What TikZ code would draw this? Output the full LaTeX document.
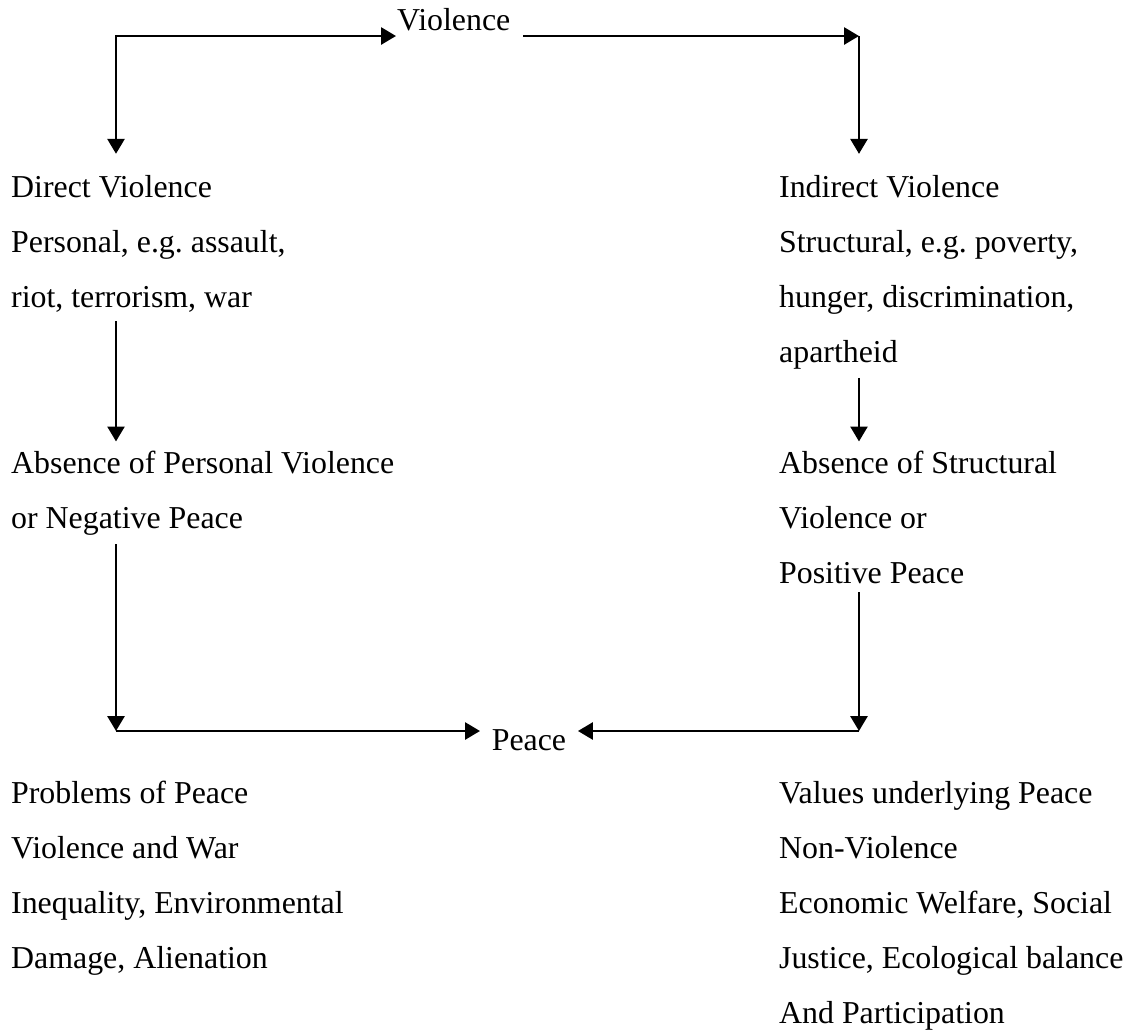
\documentclass[tikz,border=0pt]{standalone}
\usepackage{fontspec}
\setmainfont{Liberation Serif}
\usetikzlibrary{arrows.meta}
\frenchspacing

\begin{document}
\begin{tikzpicture}[x=0.3765pt, y=-0.3765pt, line width=0.9pt,
        >={Triangle[length=5.6pt,width=6.4pt]},
        txt/.style={align=left, anchor=base west, inner sep=3pt,
            font=\fontsize{12}{20.7}\selectfont}]
            \useasboundingbox (0,0) rectangle (1127,1031);

            \coordinate (TL) at (116,36);
            \coordinate (TR) at (859,36);
            \coordinate (BL) at (116,731);
            \coordinate (BR) at (859,731);

            \node[txt, inner xsep=0pt] (violence) at (396,30) {Violence};
            \node[txt] (direct) at (2,307) {Direct Violence\\Personal, e.g. assault,\\riot, terrorism, war};
            \node[txt] (indirect) at (770,362) {Indirect Violence\\Structural, e.g. poverty,\\hunger, discrimination,\\apartheid};
            \node[txt] (negpeace) at (2,528) {Absence of Personal Violence\\or Negative Peace};
            \node[txt] (pospeace) at (770,583) {Absence of Structural\\Violence or\\Positive Peace};
            \node[txt, inner xsep=4pt] (peace) at (480,750) {Peace};
            \node[txt] (problems) at (2,968) {Problems of Peace\\Violence and War\\Inequality, Environmental\\Damage, Alienation};
            \node[txt] (values) at (770,1023) {Values underlying Peace\\Non-Violence\\Economic Welfare, Social\\Justice, Ecological balance\\And Participation};

            \draw[<->, shorten >=4.5pt] (violence.west |- TL) -- (TL) -- (TL |- direct.north);
            \draw[->, shorten <=4.5pt] (violence.east |- TR) -- (TR);
            \draw[->, shorten >=4.5pt] (TR) -- (TR |- indirect.north);
            \draw[->] (TL |- direct.south) -- (TL |- negpeace.north);
            \draw[->] (TR |- indirect.south) -- (TR |- pospeace.north);
            \draw[->] (TL |- negpeace.south) -- (BL);
            \draw[->] (TR |- pospeace.south) -- (BR);
            \draw[->] (BL) -- (peace.west |- BL);
            \draw[->] (BR) -- (peace.east |- BR);
        \end{tikzpicture}
\end{document}
